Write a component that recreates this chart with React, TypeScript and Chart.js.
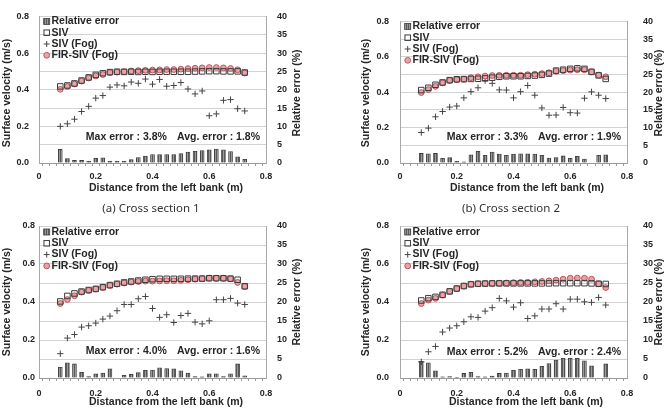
import React, { useEffect, useRef } from 'react';
import { Chart, registerables } from 'chart.js';

Chart.register(...registerables);

// ---------- data ----------
const xPos = [0.075, 0.1, 0.125, 0.15, 0.175, 0.2, 0.225, 0.25, 0.275, 0.3, 0.325, 0.35, 0.375, 0.4, 0.425, 0.45, 0.475, 0.5, 0.525, 0.55, 0.575, 0.6, 0.625, 0.65, 0.675, 0.7, 0.725];

const xTickLabels = ['0', '0.2', '0.4', '0.6', '0.8'];
const yLeftTickLabels = ['0.0', '0.2', '0.4', '0.6', '0.8'];
const yRightTickLabels = ['0', '5', '10', '15', '20', '25', '30', '35', '40'];
const legendLabels = ['Relative error', 'SIV', 'SIV (Fog)', 'FIR-SIV (Fog)'];
const xTitle = 'Distance from the left bank (m)';
const yTitle = 'Surface velocity (m/s)';
const y2Title = 'Relative error (%)';
const captions = ['(a) Cross section 1', '(b) Cross section 2'];

// Panel 1 (top-left)
const p1Siv = [0.418, 0.423, 0.434, 0.450, 0.467, 0.481, 0.490, 0.496, 0.498, 0.497, 0.498, 0.497, 0.498, 0.497, 0.498, 0.498, 0.498, 0.498, 0.498, 0.499, 0.500, 0.501, 0.501, 0.500, 0.500, 0.500, 0.494];
const p1Fir = [0.402, 0.418, 0.431, 0.447, 0.464, 0.475, 0.483, 0.493, 0.496, 0.499, 0.502, 0.504, 0.506, 0.507, 0.508, 0.510, 0.510, 0.512, 0.515, 0.517, 0.519, 0.521, 0.521, 0.519, 0.516, 0.509, 0.491];
const p1Fog = [0.200, 0.214, 0.239, 0.281, 0.309, 0.354, 0.368, 0.414, 0.426, 0.421, 0.442, 0.435, 0.458, 0.430, 0.456, 0.419, 0.423, 0.439, 0.404, 0.377, 0.393, 0.258, 0.268, 0.342, 0.346, 0.296, 0.284];
const p1Err = [3.7, 1.2, 0.7, 0.7, 0.5, 1.3, 1.4, 0.5, 0.5, 0.5, 0.9, 1.5, 1.9, 2.3, 2.3, 2.3, 2.3, 2.6, 3.0, 3.2, 3.4, 3.6, 3.8, 3.6, 3.1, 1.7, 1.0];

// Panel 2 (top-right)
const p2Siv = [0.412, 0.425, 0.442, 0.455, 0.468, 0.473, 0.474, 0.475, 0.476, 0.478, 0.482, 0.487, 0.490, 0.490, 0.490, 0.492, 0.494, 0.498, 0.505, 0.522, 0.527, 0.532, 0.535, 0.532, 0.515, 0.495, 0.475];
const p2Fir = [0.398, 0.415, 0.433, 0.453, 0.466, 0.470, 0.473, 0.482, 0.487, 0.491, 0.494, 0.495, 0.496, 0.496, 0.496, 0.499, 0.502, 0.505, 0.510, 0.518, 0.522, 0.525, 0.527, 0.527, 0.515, 0.497, 0.487];
const p2Fog = [0.172, 0.197, 0.261, 0.291, 0.316, 0.322, 0.368, 0.403, 0.425, 0.466, 0.450, 0.413, 0.412, 0.368, 0.403, 0.438, 0.383, 0.311, 0.270, 0.271, 0.314, 0.284, 0.282, 0.366, 0.402, 0.383, 0.364];
const p2Err = [2.7, 2.6, 2.7, 1.3, 1.5, 0.5, 0.3, 2.3, 3.3, 2.2, 3.1, 2.5, 2.2, 2.5, 2.6, 2.6, 2.5, 2.2, 1.4, 1.5, 2.0, 1.3, 1.9, 1.1, 0.0, 2.2, 2.3];

// Panel 3 (bottom-left)
const p3Siv = [0.403, 0.432, 0.445, 0.455, 0.463, 0.469, 0.478, 0.489, 0.496, 0.503, 0.508, 0.513, 0.517, 0.520, 0.522, 0.522, 0.522, 0.522, 0.523, 0.523, 0.523, 0.525, 0.525, 0.525, 0.523, 0.517, 0.483];
const p3Fir = [0.392, 0.413, 0.433, 0.452, 0.461, 0.468, 0.477, 0.487, 0.494, 0.500, 0.505, 0.508, 0.510, 0.510, 0.511, 0.512, 0.512, 0.514, 0.517, 0.520, 0.523, 0.526, 0.525, 0.525, 0.522, 0.503, 0.481];
const p3Fog = [0.128, 0.210, 0.229, 0.268, 0.275, 0.289, 0.310, 0.326, 0.354, 0.387, 0.387, 0.417, 0.429, 0.366, 0.319, 0.333, 0.292, 0.329, 0.340, 0.294, 0.285, 0.301, 0.412, 0.412, 0.419, 0.394, 0.387];
const p3Err = [2.8, 4.0, 3.7, 1.5, 0.4, 1.1, 1.3, 2.4, 0.0, 0.7, 1.0, 1.4, 2.0, 2.1, 2.7, 2.5, 2.4, 1.9, 1.3, 0.4, 0.3, 1.1, 1.1, 0.4, 1.1, 3.7, 0.6];

// Panel 4 (bottom-right)
const p4Siv = [0.408, 0.420, 0.427, 0.438, 0.456, 0.471, 0.484, 0.493, 0.496, 0.497, 0.498, 0.498, 0.498, 0.498, 0.498, 0.498, 0.498, 0.498, 0.498, 0.499, 0.499, 0.499, 0.499, 0.499, 0.498, 0.496, 0.495];
const p4Fir = [0.392, 0.410, 0.419, 0.436, 0.456, 0.470, 0.484, 0.494, 0.496, 0.497, 0.498, 0.499, 0.500, 0.502, 0.503, 0.504, 0.506, 0.508, 0.511, 0.515, 0.520, 0.525, 0.526, 0.525, 0.520, 0.496, 0.476];
const p4Fog = [0.085, 0.138, 0.166, 0.242, 0.263, 0.275, 0.296, 0.322, 0.319, 0.352, 0.370, 0.419, 0.406, 0.373, 0.396, 0.313, 0.327, 0.363, 0.363, 0.391, 0.363, 0.415, 0.415, 0.401, 0.398, 0.424, 0.384];
const p4Err = [4.4, 4.0, 1.9, 0.3, 0.4, 0.2, 1.2, 1.5, 0.4, 0.3, 0.5, 1.2, 1.3, 2.0, 2.3, 2.4, 2.3, 3.1, 3.8, 4.7, 5.2, 5.2, 5.2, 4.5, 3.2, 0.0, 3.7];

const maxErrors = ['3.8', '3.3', '4.0', '5.2'];
const avgErrors = ['1.8', '1.9', '1.6', '2.4'];

// ---------- layout / style ----------
const FONT = '"Liberation Sans", Arial, Helvetica, sans-serif';
const TEXT = '#262626';

type Cfg = {
  left: number; top: number; w: number; h: number;
  pl: number; pr: number; pt: number; pb: number;
  yPad: number; y2Pad: number; xPad: number;
  yTitleX: number; y2TitleX: number; titleCy: number;
  xTitleX: number; xTitleY: number; errY: number; legOff: number;
  siv: number[]; fir: number[]; fog: number[]; err: number[];
  maxE: string; avgE: string;
};

const panels: Cfg[] = [
  { left: 0, top: 0, w: 334, h: 200, pl: 39, pr: 266, pt: 12, pb: 163, yPad: 10, y2Pad: 11, xPad: 5,
    yTitleX: 7, y2TitleX: 297, titleCy: 93, xTitleX: 166, xTitleY: 188, errY: 137, legOff: 5,
    siv: p1Siv, fir: p1Fir, fog: p1Fog, err: p1Err, maxE: maxErrors[0], avgE: avgErrors[0] },
  { left: 334, top: 0, w: 334, h: 200, pl: 66, pr: 293, pt: 12, pb: 163, yPad: 11, y2Pad: 16, xPad: 5,
    yTitleX: 32, y2TitleX: 325, titleCy: 93, xTitleX: 193, xTitleY: 188, errY: 137, legOff: 5,
    siv: p2Siv, fir: p2Fir, fog: p2Fog, err: p2Err, maxE: maxErrors[1], avgE: avgErrors[1] },
  { left: 0, top: 200, w: 334, h: 215, pl: 39, pr: 266, pt: 26, pb: 178, yPad: 4, y2Pad: 11, xPad: 7,
    yTitleX: 7, y2TitleX: 297, titleCy: 102, xTitleX: 166, xTitleY: 202, errY: 151, legOff: 6,
    siv: p3Siv, fir: p3Fir, fog: p3Fog, err: p3Err, maxE: maxErrors[2], avgE: avgErrors[2] },
  { left: 334, top: 200, w: 334, h: 215, pl: 66, pr: 293, pt: 26, pb: 178, yPad: 11, y2Pad: 16, xPad: 7,
    yTitleX: 32, y2TitleX: 325, titleCy: 102, xTitleX: 192, xTitleY: 202, errY: 152, legOff: 6,
    siv: p4Siv, fir: p4Fir, fog: p4Fog, err: p4Err, maxE: maxErrors[3], avgE: avgErrors[3] },
];

function makeHatch(): CanvasPattern | string {
  const c = document.createElement('canvas');
  c.width = 2; c.height = 2;
  const g = c.getContext('2d');
  if (!g) return '#666';
  g.fillStyle = '#5a5a5a'; g.fillRect(0, 0, 1, 2);
  g.fillStyle = '#9a9a9a'; g.fillRect(1, 0, 1, 2);
  return g.createPattern(c, 'repeat') || '#666';
}

const SQ_COLOR = '#3c3c3c';
const FIR_FILL = '#e8a3a9';
const FIR_EDGE = '#c2535d';
const FOG_COLOR = '#444444';
const BAR_EDGE = '#3c3c3c';

function drawMarker(ctx: CanvasRenderingContext2D, i: number, x: number, y: number, hatch: any) {
  ctx.save();
  if (i === 0) {
    ctx.fillStyle = hatch;
    ctx.fillRect(x - 3, y - 3, 6, 6);
    ctx.strokeStyle = BAR_EDGE; ctx.lineWidth = 0.8;
    ctx.strokeRect(x - 3, y - 3, 6, 6);
  } else if (i === 1) {
    ctx.strokeStyle = SQ_COLOR; ctx.lineWidth = 1;
    ctx.strokeRect(x - 2.75, y - 2.75, 5.5, 5.5);
  } else if (i === 2) {
    ctx.strokeStyle = FOG_COLOR; ctx.lineWidth = 1;
    ctx.beginPath();
    ctx.moveTo(x - 3, y); ctx.lineTo(x + 3, y);
    ctx.moveTo(x, y - 3); ctx.lineTo(x, y + 3);
    ctx.stroke();
  } else {
    ctx.fillStyle = FIR_FILL; ctx.strokeStyle = FIR_EDGE; ctx.lineWidth = 1;
    ctx.beginPath(); ctx.arc(x, y, 2.9, 0, Math.PI * 2); ctx.fill(); ctx.stroke();
  }
  ctx.restore();
}

const pts = (vals: number[]) => vals.map((v, i) => ({ x: xPos[i], y: v }));

function Panel({ cfg }: { cfg: Cfg }) {
  const ref = useRef<HTMLCanvasElement>(null);
  useEffect(() => {
    const canvas = ref.current;
    if (!canvas) return;
    const hatch = makeHatch();
    const tickFont = { family: FONT, size: 9, weight: 'bold' as const };

    const overlay = {
      id: 'overlay',
      afterDraw(chart: any) {
        const ctx: CanvasRenderingContext2D = chart.ctx;
        const a = chart.chartArea;
        ctx.save();
        ctx.fillStyle = TEXT;
        ctx.font = `bold 10.5px ${FONT}`;
        ctx.textAlign = 'center';
        ctx.textBaseline = 'middle';
        ctx.fillText(xTitle, cfg.xTitleX, cfg.xTitleY);
        ctx.save(); ctx.translate(cfg.yTitleX, cfg.titleCy); ctx.rotate(-Math.PI / 2); ctx.fillText(yTitle, 0, 0); ctx.restore();
        ctx.save(); ctx.translate(cfg.y2TitleX, cfg.titleCy); ctx.rotate(-Math.PI / 2); ctx.fillText(y2Title, 0, 0); ctx.restore();

        ctx.textAlign = 'right';
        const avg = `Avg. error : ${cfg.avgE}%`;
        const R = a.right - 6;
        ctx.fillText(avg, R, cfg.errY);
        const w = ctx.measureText(avg).width;
        ctx.fillText(`Max error : ${cfg.maxE}%`, R - w - 10, cfg.errY);

        ctx.textAlign = 'left';
        const mx = a.left + 7.7;
        const tx = a.left + 12.5;
        legendLabels.forEach((lab, i) => {
          const y = a.top + cfg.legOff + i * 11.3;
          drawMarker(ctx, i, mx, y, hatch);
          ctx.fillStyle = TEXT;
          ctx.fillText(lab, tx, y);
        });
        ctx.restore();
      },
    };

    const chart = new Chart(canvas, {
      type: 'bar',
      data: {
        datasets: [
          { type: 'line', label: legendLabels[1], data: pts(cfg.siv), showLine: false, pointStyle: 'rect',
            pointRadius: 3.9, pointBackgroundColor: 'rgba(255,255,255,0)', pointBorderColor: SQ_COLOR,
            pointBorderWidth: 1, yAxisID: 'y', order: 1 } as any,
          { type: 'line', label: legendLabels[3], data: pts(cfg.fir), showLine: false, pointStyle: 'circle',
            pointRadius: 2.9, pointBackgroundColor: FIR_FILL, pointBorderColor: FIR_EDGE,
            pointBorderWidth: 1, yAxisID: 'y', order: 2 } as any,
          { type: 'line', label: legendLabels[2], data: pts(cfg.fog), showLine: false, pointStyle: 'cross',
            pointRadius: 3.2, pointBorderColor: FOG_COLOR, pointBorderWidth: 1, yAxisID: 'y', order: 3 } as any,
          { type: 'bar', label: legendLabels[0], data: pts(cfg.err), backgroundColor: hatch as any,
            borderColor: BAR_EDGE, borderWidth: 0.8, barThickness: 4, yAxisID: 'y2', order: 4 } as any,
        ],
      },
      options: {
        responsive: false,
        animation: false,
        events: [],
        layout: { padding: { top: cfg.pt, left: 0, right: 0, bottom: 0 } },
        plugins: { legend: { display: false }, tooltip: { enabled: false } },
        scales: {
          x: {
            type: 'linear', min: 0, max: 0.8, offset: false,
            afterBuildTicks: (s: any) => { s.ticks = Array.from({ length: 33 }, (_, i) => ({ value: i * 0.025 })); },
            ticks: {
              autoSkip: false, maxRotation: 0, minRotation: 0, padding: cfg.xPad, color: TEXT, font: tickFont,
              callback: (v: any) => { const k = Math.round(Number(v) * 40); return k % 8 === 0 ? xTickLabels[k / 8] : ''; },
            },
            grid: { drawOnChartArea: false, drawTicks: true, tickLength: 3, color: '#9a9a9a' },
            border: { display: true, color: '#9a9a9a' },
            afterFit: (s: any) => { s.height = cfg.h - cfg.pb; },
          },
          y: {
            type: 'linear', position: 'left', min: 0, max: 0.8,
            afterBuildTicks: (s: any) => { s.ticks = Array.from({ length: 9 }, (_, i) => ({ value: i * 0.1 })); },
            ticks: {
              padding: cfg.yPad, color: TEXT, font: tickFont,
              callback: (v: any) => { const k = Math.round(Number(v) * 10); return k % 2 === 0 ? yLeftTickLabels[k / 2] : ''; },
            },
            grid: { color: '#d2d2d2', drawTicks: false },
            border: { display: true, color: '#a8a8a8' },
            afterFit: (s: any) => { s.width = cfg.pl; },
          },
          y2: {
            type: 'linear', position: 'right', min: 0, max: 40,
            afterBuildTicks: (s: any) => { s.ticks = Array.from({ length: 9 }, (_, i) => ({ value: i * 5 })); },
            ticks: {
              padding: cfg.y2Pad, color: TEXT, font: tickFont,
              callback: (v: any) => yRightTickLabels[Math.round(Number(v) / 5)],
            },
            grid: { drawOnChartArea: false, drawTicks: false },
            border: { display: true, color: '#a8a8a8' },
            afterFit: (s: any) => { s.width = cfg.w - cfg.pr; },
          },
        },
      } as any,
      plugins: [overlay],
    });
    return () => chart.destroy();
  }, [cfg]);

  return (
    <div style={{ position: 'absolute', left: cfg.left, top: cfg.top, width: cfg.w, height: cfg.h }}>
      <canvas ref={ref} width={cfg.w} height={cfg.h} style={{ display: 'block', width: cfg.w, height: cfg.h }} />
    </div>
  );
}

export default function App() {
  const capStyle: React.CSSProperties = {
    position: 'absolute', top: 199, width: 200, height: 18, lineHeight: '18px', textAlign: 'center',
    fontFamily: '"Noto Sans", "Open Sans", sans-serif', fontSize: 11.5, color: '#333', zIndex: 2,
  };
  return (
    <div style={{ position: 'absolute', left: 0, top: 0, width: 668, height: 415, background: '#fff', overflow: 'hidden' }}>
      {panels.map((p, i) => <Panel key={i} cfg={p} />)}
      <div style={{ ...capStyle, left: 151 - 100 }}>{captions[0]}</div>
      <div style={{ ...capStyle, left: 511 - 100 }}>{captions[1]}</div>
    </div>
  );
}
